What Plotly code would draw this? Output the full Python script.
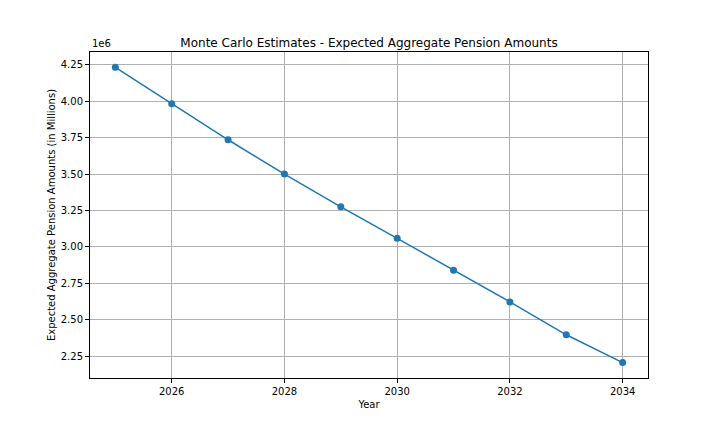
import plotly.graph_objects as go

# data
years = [2025, 2026, 2027, 2028, 2029, 2030, 2031, 2032, 2033, 2034]
expected_amounts = [4234000, 3984000, 3736000, 3500000, 3275000,
                    3059000, 2840000, 2622000, 2396000, 2205000]

y_tick_vals = [2.25e6, 2.5e6, 2.75e6, 3.0e6, 3.25e6, 3.5e6, 3.75e6, 4.0e6, 4.25e6]
y_tick_text = ["%.2f" % (v / 1e6) for v in y_tick_vals]
x_tick_vals = [2026, 2028, 2030, 2032, 2034]

fig = go.Figure()
fig.add_trace(go.Scatter(
    x=years, y=expected_amounts, mode="lines+markers",
    line=dict(color="#1f77b4", width=1.5),
    marker=dict(color="#1f77b4", size=7),
    showlegend=False
))

axis_style = dict(
    showline=True, linecolor="black", linewidth=1, mirror=True,
    ticks="outside", ticklen=4, tickcolor="black", tickwidth=1,
    showgrid=True, gridcolor="#b0b0b0", gridwidth=0.8,
    zeroline=False, tickfont=dict(size=10, color="black"),
)

# the page body adds an 8px offset, so the figure is sized to fit the window
fig.update_layout(
    width=712, height=424,
    margin=dict(l=82, r=72, t=44, b=54),
    paper_bgcolor="white", plot_bgcolor="white",
    font=dict(family="DejaVu Sans", size=10, color="black"),
    title=dict(text="Monte Carlo Estimates - Expected Aggregate Pension Amounts",
               x=0.5, xref="paper", y=1, yref="paper", yanchor="bottom",
               pad=dict(b=5), font=dict(size=12)),
    xaxis=dict(axis_style, range=[2024.55, 2034.45], tickvals=x_tick_vals,
               title=dict(text="Year", standoff=4, font=dict(size=10))),
    yaxis=dict(axis_style, range=[2.099e6, 4.339e6], tickvals=y_tick_vals,
               ticktext=y_tick_text,
               title=dict(text="Expected Aggregate Pension Amounts (in Millions)",
                          standoff=3, font=dict(size=10))),
)

fig.add_annotation(text="1e6", xref="paper", yref="paper", x=0, y=1,
                   xanchor="left", yanchor="bottom", showarrow=False,
                   font=dict(size=10), yshift=1)

fig.write_html("out.html")
